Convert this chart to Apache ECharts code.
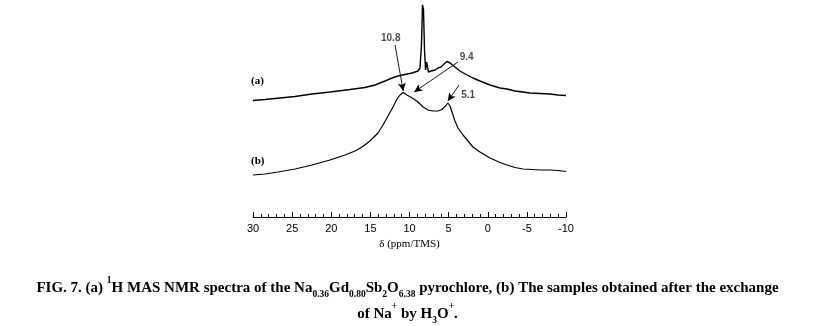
<!DOCTYPE html>
<html>
<head>
<meta charset="utf-8">
<script src="https://cdn.jsdelivr.net/npm/echarts@6/dist/echarts.min.js"></script>
<style>
  html, body { margin: 0; padding: 0; background: #fff; }
  #chart { width: 815px; height: 326px; }
</style>
</head>
<body>
<div id="chart"></div>
<script>
// Chemical shift (ppm) and intensity (arbitrary units, stacked offset) for each spectrum
const shiftA = [30, 28.47, 26.55, 24.63, 22.46, 20.16, 17.6, 15.69, 14.41, 13.13, 12.24, 11.47, 10.58, 9.68, 8.91, 8.66, 8.47, 8.34, 8.21, 8.08, 7.95, 7.83, 7.7, 7.57, 7.25, 6.74, 6.36, 5.97, 5.59, 5.21, 4.82, 4.19, 3.55, 2.65, 1.89, 0.99, -0.29, -1.57, -2.46, -3.48, -4.5, -5.4, -6.68, -7.96, -8.98, -10];
const intensityA = [116.5, 117.5, 119, 120.5, 123, 125, 127.5, 129.5, 132, 136, 139, 141, 142.5, 144, 146, 149, 172, 212, 207, 167, 147, 155, 156, 145, 146, 147, 149, 150, 153, 155.5, 154, 150, 146, 142, 139, 136, 132, 129, 128, 126, 125, 124, 123.5, 123, 122, 121.5];

const shiftB = [30, 28.47, 26.81, 24.63, 22.46, 20.16, 18.24, 16.96, 16.07, 15.05, 14.03, 13.39, 12.75, 12.11, 11.6, 11.21, 10.8, 10.32, 9.55, 8.91, 8.27, 7.64, 7.0, 6.36, 5.85, 5.34, 5.1, 4.82, 4.57, 4.19, 3.8, 3.16, 2.52, 1.89, 0.99, -0.29, -1.57, -2.46, -3.48, -4.5, -5.65, -6.68, -7.96, -8.98, -10];
const intensityB = [42, 43, 45, 48, 52, 57, 62, 66, 70, 76, 84, 92, 101, 110, 118, 122, 124.5, 122, 118.5, 115, 110, 107, 106, 106, 107.5, 111.5, 114, 111, 105, 96, 89, 82, 76, 70, 65, 59, 54.5, 52, 49.5, 48, 47.5, 47, 47, 46.5, 45.5];

// Peak assignments pointed out by arrows
const peakShifts = [10.8, 9.4, 5.1];
const peakLabels = ['10.8', '9.4', '5.1'];

const xTicks = { min: -10, max: 30, interval: 5 };

const pairs = (xs, ys) => xs.map((x, i) => [x, ys[i]]);

// arrow geometry: tail point (ppm, intensity), tip intensity, label anchor
const arrowGeom = [
  { tail: [11.85, 172], tipY: 126, labelPos: [12.4, 179] },
  { tail: [3.8, 155], tipY: 125, labelPos: [2.7, 160] },
  { tail: [3.67, 132], tipY: 116, labelPos: [2.5, 122] }
];

const arrowLines = peakShifts.map((s, i) => [
  { coord: arrowGeom[i].tail },
  { coord: [s, arrowGeom[i].tipY] }
]);
const arrowText = peakShifts.map((s, i) => ({
  value: arrowGeom[i].labelPos.concat(peakLabels[i])
}));

const chart = echarts.init(document.getElementById('chart'), null, { renderer: 'canvas' });

const serif = '"Liberation Serif", "Times New Roman", serif';
const serifBold = { fontFamily: serif, fontWeight: 'bold', fill: '#000' };
const captionRich = {
  n: { fontSize: 15, fontWeight: 'bold', fontFamily: serif, fill: '#000', lineHeight: 24 },
  sub: { fontSize: 9.5, fontWeight: 'bold', fontFamily: serif, fill: '#000', lineHeight: 17, verticalAlign: 'bottom' },
  sup: { fontSize: 9.5, fontWeight: 'bold', fontFamily: serif, fill: '#000', lineHeight: 15, verticalAlign: 'top' }
};

chart.setOption({
  animation: false,
  backgroundColor: '#fff',
  grid: { left: 253, right: 249, top: 0, bottom: 109 },
  xAxis: {
    type: 'value',
    inverse: true,
    min: xTicks.min,
    max: xTicks.max,
    interval: xTicks.interval,
    splitLine: { show: false },
    axisLine: { show: true, onZero: false, lineStyle: { color: '#000', width: 1 } },
    axisTick: { show: true, inside: true, length: 5, lineStyle: { color: '#000', width: 1 } },
    minorTick: { show: true, splitNumber: 5, length: 3, lineStyle: { color: '#000', width: 1 } },
    axisLabel: { color: '#000', fontSize: 11, fontFamily: '"Liberation Sans", Arial, sans-serif', margin: 6 },
    name: 'δ (ppm/TMS)',
    nameLocation: 'middle',
    nameGap: 21,
    nameTextStyle: { color: '#000', fontSize: 11, fontFamily: serif }
  },
  yAxis: {
    type: 'value', min: 0, max: 217, show: false,
    splitLine: { show: false }
  },
  series: [
    {
      name: '(a)', type: 'line', data: pairs(shiftA, intensityA),
      showSymbol: false, symbol: 'none',
      lineStyle: { color: '#000', width: 1.4 },
      markLine: {
        silent: true, symbol: ['none', 'arrow'], symbolSize: [6, 8],
        lineStyle: { color: '#000', width: 0.9, type: 'solid' },
        label: { show: false },
        data: arrowLines
      }
    },
    {
      name: '(b)', type: 'line', data: pairs(shiftB, intensityB),
      showSymbol: false, symbol: 'none',
      lineStyle: { color: '#000', width: 1.2 }
    },
    {
      name: 'peaks', type: 'scatter', data: arrowText, symbolSize: 0,
      silent: true,
      label: {
        show: true, position: 'inside',
        formatter: p => p.value[2],
        color: '#1b1b1b', fontSize: 10, fontWeight: 'bold',
        fontFamily: '"Liberation Sans", Arial, sans-serif'
      }
    }
  ],
  graphic: [
    { type: 'text', left: 251, top: 76, style: Object.assign({ text: '(a)', fontSize: 11 }, serifBold) },
    { type: 'text', left: 251, top: 156, style: Object.assign({ text: '(b)', fontSize: 11 }, serifBold) },
    {
      type: 'text', left: 'center', top: 276,
      style: {
        text: '{n|FIG. 7. (a) }{sup|1}{n|H MAS NMR spectra of the Na}{sub|0.36}{n|Gd}{sub|0.80}{n|Sb}{sub|2}{n|O}{sub|6.38}{n| pyrochlore, (b) The samples obtained after the exchange}',
        rich: captionRich
      }
    },
    {
      type: 'text', left: 'center', top: 302,
      style: {
        text: '{n|of Na}{sup|+}{n| by H}{sub|3}{n|O}{sup|+}{n|.}',
        rich: captionRich
      }
    }
  ]
});
</script>
</body>
</html>
